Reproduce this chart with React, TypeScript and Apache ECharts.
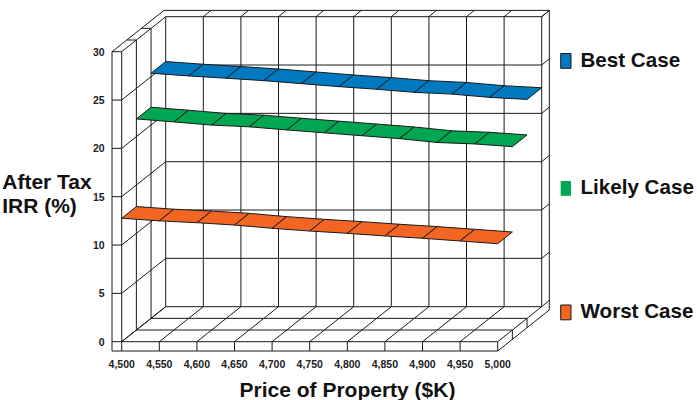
import React, { useEffect, useRef } from "react";
import * as echarts from "echarts";

const prices = [4500, 4550, 4600, 4650, 4700, 4750, 4800, 4850, 4900, 4950, 5000];
const irrLevels = [0, 5, 10, 15, 20, 25, 30];
const bestCase = [25.36, 25.08, 24.84, 24.59, 24.28, 23.97, 23.7, 23.38, 23.2, 22.86, 22.65];
const likelyCase = [21.84, 21.53, 21.2, 21.02, 20.7, 20.4, 20.1, 19.8, 19.4, 19.25, 18.97];
const worstCase = [12.77, 12.5, 12.31, 12.07, 11.73, 11.45, 11.21, 10.94, 10.7, 10.42, 10.14];

const BLUE = "#0079c1";
const GREEN = "#00a651";
const ORANGE = "#f26522";
const INK = "#1a1a1a";
const FONT = '"Liberation Sans", Arial, sans-serif';

// Screen offset of one step into the oblique depth of the box.
const DEPTH_DX = 14.67;
const DEPTH_DY = -11.67;

type Pt = number[];

function projector(api: any) {
  return (price: number, irr: number, depth: number): Pt => {
    const c = api.coord([price, irr]);
    return [c[0] + depth * DEPTH_DX, c[1] + depth * DEPTH_DY];
  };
}

const shift = (p: Pt, dx: number, dy: number): Pt => [p[0] + dx, p[1] + dy];

function renderFrame(_: any, api: any) {
  const P = projector(api);
  const first = prices[0];
  const last = prices[prices.length - 1];
  const top = irrLevels[irrLevels.length - 1];
  const segs: Pt[][] = [];

  prices.forEach((p) => {
    segs.push([P(p, 0, 3), P(p, top, 3)]); // back wall verticals
    segs.push([P(p, 0, 0), P(p, 0, 3)]); // floor depth lines
    segs.push([P(p, 0, 0), shift(P(p, 0, 0), 0, 9.3)]); // front slab ticks
    if (p !== first) segs.push([P(p, top, 3), shift(P(p, top, 3), 7.6, -6.3)]);
  });
  irrLevels.forEach((v) => {
    segs.push([P(first, v, 3), P(last, v, 3)]); // back wall horizontals
    segs.push([P(first, v, 0), P(first, v, 3)]); // left wall diagonals
    segs.push([P(first, v, 0), shift(P(first, v, 0), -9.7, 0)]); // left slab ticks
    segs.push([P(last, v, 3), shift(P(last, v, 3), 7.6, -6.3)]); // right rim ticks
  });
  [0, 1, 2].forEach((d) => {
    segs.push([P(first, 0, d), P(first, top, d)]); // left wall verticals
    segs.push([P(first, 0, d), P(last, 0, d)]); // floor rows
    if (d > 0) {
      segs.push([P(last, 0, d), shift(P(last, 0, d), 0, 9.3)]);
      segs.push([P(first, top, d), shift(P(first, top, d), -9.3, 0)]);
    }
  });

  const outline = [
    shift(P(first, top, 0), -9.7, 0),
    shift(P(first, 0, 0), -9.7, 9.3),
    shift(P(last, 0, 0), 0, 9.3),
    shift(P(last, 0, 3), 7.6, 3.3),
    shift(P(last, top, 3), 7.6, -6.3),
    shift(P(first, top, 3), -1.7, -6.3),
    shift(P(first, top, 0), -9.7, 0),
  ];

  const lineStyle = { stroke: INK, lineWidth: 1, fill: "none" };
  return {
    type: "group",
    children: [
      ...segs.map((s) => ({
        type: "polyline",
        shape: { points: s },
        style: lineStyle,
      })),
      { type: "polyline", shape: { points: outline }, style: lineStyle },
    ],
  };
}

// Draws one ribbon cell between a price and the next one, one depth step deep.
function ribbon(values: number[], depth: number, fill: string) {
  return (params: any, api: any) => {
    const i = params.dataIndex;
    if (i >= prices.length - 1) return { type: "group", children: [] };
    const P = projector(api);
    return {
      type: "polygon",
      shape: {
        points: [
          P(prices[i], values[i], depth),
          P(prices[i + 1], values[i + 1], depth),
          P(prices[i + 1], values[i + 1], depth + 1),
          P(prices[i], values[i], depth + 1),
        ],
      },
      style: { fill, stroke: INK, lineWidth: 1 },
    };
  };
}

const pairs = (values: number[]) => prices.map((p, i) => [p, values[i]]);

const boldText = (text: string, x: number, y: number, textAlign: string, fontSize = 20.6) => ({
  type: "text",
  x,
  y,
  style: {
    text,
    fontFamily: FONT,
    fontWeight: "bold",
    fontSize,
    fill: "#111",
    textAlign,
    textVerticalAlign: "middle",
  },
});

// Legend swatch with its label, placed by hand because the three rows are unevenly spaced.
const legendRow = (name: string, color: string, top: number, textY: number, outlined: boolean) => [
  {
    type: "rect",
    shape: { x: 560.7, y: top, width: 10.3, height: 14.8 },
    style: { fill: color, stroke: outlined ? INK : color, lineWidth: outlined ? 1 : 0 },
  },
  boldText(name, 580.5, textY, "left"),
];

export default function App() {
  const ref = useRef<HTMLDivElement>(null);

  useEffect(() => {
    const chart = echarts.init(ref.current!, undefined, { renderer: "svg" });
    chart.setOption({
      animation: false,
      backgroundColor: "#ffffff",
      grid: { left: 121.7, top: 51.7, width: 376, height: 290 },
      xAxis: {
        type: "value",
        min: 4500,
        max: 5000,
        interval: 50,
        axisLine: { show: false },
        axisTick: { show: false },
        splitLine: { show: false },
        axisLabel: {
          margin: 17,
          fontFamily: FONT,
          fontWeight: "bold",
          fontSize: 10.5,
          color: "#222",
          formatter: (v: number) => v.toLocaleString("en-US"),
        },
      },
      yAxis: {
        type: "value",
        min: 0,
        max: 30,
        interval: 5,
        axisLine: { show: false },
        axisTick: { show: false },
        splitLine: { show: false },
        axisLabel: {
          margin: 17,
          fontFamily: FONT,
          fontWeight: "bold",
          fontSize: 10.5,
          color: "#222",
        },
      },
      graphic: [
        ...legendRow("Best Case", BLUE, 53.5, 59, true),
        ...legendRow("Likely Case", GREEN, 181, 186, false),
        ...legendRow("Worst Case", ORANGE, 305, 310, true),
        boldText("After Tax", 47, 181, "center", 21),
        boldText("IRR (%)", 39.5, 205, "center", 21),
        boldText("Price of Property ($K)", 347.5, 389.5, "center", 21),
      ],
      series: [
        { type: "custom", name: "frame", silent: true, clip: false, data: [[4500, 0]], renderItem: renderFrame, z: 1 },
        { type: "custom", name: "Best Case", clip: false, itemStyle: { color: BLUE }, data: pairs(bestCase), renderItem: ribbon(bestCase, 2, BLUE), z: 2 },
        { type: "custom", name: "Likely Case", clip: false, itemStyle: { color: GREEN }, data: pairs(likelyCase), renderItem: ribbon(likelyCase, 1, GREEN), z: 3 },
        { type: "custom", name: "Worst Case", clip: false, itemStyle: { color: ORANGE }, data: pairs(worstCase), renderItem: ribbon(worstCase, 0, ORANGE), z: 4 },
      ],
    });
    return () => chart.dispose();
  }, []);

  return <div ref={ref} style={{ position: "absolute", left: 0, top: 0, width: 697, height: 400 }} />;
}
